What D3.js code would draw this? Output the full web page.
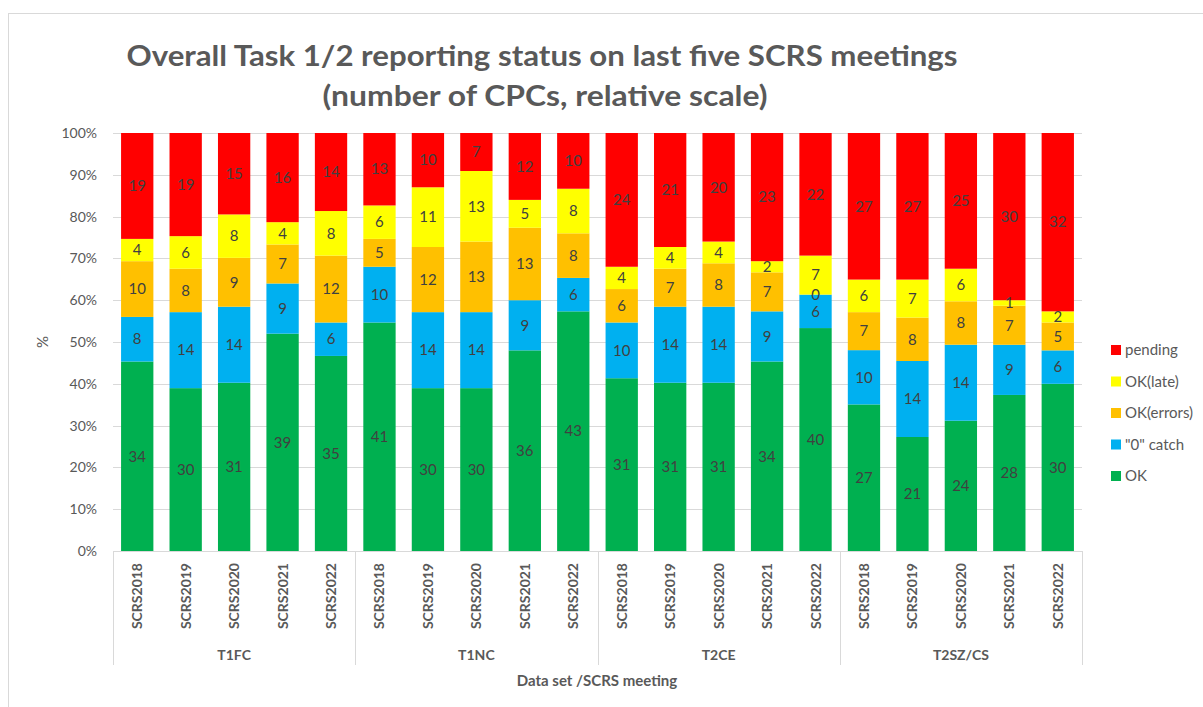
<!DOCTYPE html>
<html>
<head>
<meta charset="utf-8">
<script src="https://cdn.jsdelivr.net/npm/d3@7"></script>
<style>
  html, body { margin: 0; padding: 0; background: #fff; }
  svg { display: block; font-family: Lato, "Open Sans", sans-serif; }
</style>
</head>
<body>
<svg id="chart" width="1203" height="707"></svg>
<script>
// Data sets and SCRS meetings on the x axis
const groups = ["T1FC", "T1NC", "T2CE", "T2SZ/CS"];
const meetings = ["SCRS2018", "SCRS2019", "SCRS2020", "SCRS2021", "SCRS2022"];

// Series, bottom to top of each stack (number of CPCs)
const seriesNames = ["OK", "\"0\" catch", "OK(errors)", "OK(late)", "pending"];
const seriesColors = ["#00B050", "#00B0F0", "#FFC000", "#FFFF00", "#FF0000"];

const okValues      = [34, 30, 31, 39, 35,  41, 30, 30, 36, 43,  31, 31, 31, 34, 40,  27, 21, 24, 28, 30];
const zeroCatch     = [ 8, 14, 14,  9,  6,  10, 14, 14,  9,  6,  10, 14, 14,  9,  6,  10, 14, 14,  9,  6];
const okErrors      = [10,  8,  9,  7, 12,   5, 12, 13, 13,  8,   6,  7,  8,  7,  0,   7,  8,  8,  7,  5];
const okLate        = [ 4,  6,  8,  4,  8,   6, 11, 13,  5,  8,   4,  4,  4,  2,  7,   6,  7,  6,  1,  2];
const pending       = [19, 19, 15, 16, 14,  13, 10,  7, 12, 10,  24, 21, 20, 23, 22,  27, 27, 25, 30, 32];

const yTicks = [0, 0.1, 0.2, 0.3, 0.4, 0.5, 0.6, 0.7, 0.8, 0.9, 1.0];

const seriesValues = [okValues, zeroCatch, okErrors, okLate, pending];

// One row per bar
const rows = [];
groups.forEach((g, gi) => meetings.forEach((m, mi) => {
  const i = gi * meetings.length + mi;
  const row = { key: g + "|" + m, group: g, meeting: m };
  seriesNames.forEach((s, si) => row[s] = seriesValues[si][i]);
  row.total = d3.sum(seriesNames, s => row[s]);
  rows.push(row);
}));

const svg = d3.select("#chart");
const textColor = "#595959";
const margin = { left: 113, right: 1082, top: 133, bottom: 551 };

// Chart frame
svg.append("rect")
  .attr("x", 8.5).attr("y", 13.5)
  .attr("width", 1220).attr("height", 720)
  .attr("fill", "none").attr("stroke", "#d9d9d9").attr("stroke-width", 1);

// Title
const title = svg.append("g").attr("fill", textColor).attr("font-weight", "bold")
  .attr("font-size", 29).attr("text-anchor", "middle");
title.append("text").attr("x", 542).attr("y", 66)
  .attr("textLength", 831).attr("lengthAdjust", "spacingAndGlyphs")
  .text("Overall Task 1/2 reporting status on last five SCRS meetings");
title.append("text").attr("x", 545).attr("y", 106)
  .attr("textLength", 445).attr("lengthAdjust", "spacingAndGlyphs")
  .text("(number of CPCs, relative scale)");

const x = d3.scaleBand()
  .domain(rows.map(r => r.key))
  .range([margin.left, margin.right])
  .paddingInner(0.333).paddingOuter(0.1665);

const y = d3.scaleLinear().domain([0, 1]).range([margin.bottom, margin.top]);

// Gridlines
svg.append("g").selectAll("line").data(yTicks.slice(1)).join("line")
  .attr("x1", margin.left).attr("x2", margin.right)
  .attr("y1", d => Math.round(y(d)) + 0.5).attr("y2", d => Math.round(y(d)) + 0.5)
  .attr("stroke", "#d9d9d9").attr("stroke-width", 1);

// Y axis labels
const yAxis = d3.axisLeft(y).tickValues(yTicks).tickFormat(d3.format(".0%")).tickSize(0).tickPadding(16);
svg.append("g").attr("transform", `translate(${margin.left},0)`).call(yAxis)
  .call(g => g.select(".domain").remove())
  .call(g => g.selectAll("text").attr("fill", textColor).attr("font-size", 14)
    .attr("font-family", "Lato, 'Open Sans', sans-serif"));

// Stacked, normalised to each bar's total
const stack = d3.stack().keys(seriesNames).offset(d3.stackOffsetExpand);
const layers = stack(rows);

const layerG = svg.append("g").selectAll("g").data(layers).join("g")
  .attr("fill", (d, i) => seriesColors[i]);

layerG.selectAll("rect").data(d => d).join("rect")
  .attr("x", d => x(d.data.key))
  .attr("width", x.bandwidth())
  .attr("y", d => y(d[1]))
  .attr("height", d => y(d[0]) - y(d[1]));

// Value labels
const labelG = svg.append("g").attr("font-size", 15).attr("fill", "#404040").attr("text-anchor", "middle");
layers.forEach(layer => {
  layer.forEach(d => {
    labelG.append("text")
      .attr("x", x(d.data.key) + x.bandwidth() / 2)
      .attr("y", (y(d[0]) + y(d[1])) / 2)
      .attr("dy", "0.35em")
      .text(d.data[layer.key]);
  });
});

// Axis line
svg.append("line")
  .attr("x1", margin.left).attr("x2", margin.right)
  .attr("y1", margin.bottom + 0.5).attr("y2", margin.bottom + 0.5)
  .attr("stroke", "#d9d9d9");

// Meeting labels (rotated)
svg.append("g").selectAll("text").data(rows).join("text")
  .attr("transform", d => `translate(${x(d.key) + x.bandwidth() / 2 + 5},${563}) rotate(-90)`)
  .attr("text-anchor", "end")
  .attr("font-size", 14).attr("font-weight", "bold").attr("fill", textColor)
  .text(d => d.meeting);

// Group separators and labels
const groupWidth = (margin.right - margin.left) / groups.length;
const sepX = d3.range(groups.length + 1).map(i => Math.round(margin.left + i * groupWidth) + 0.5);
svg.append("g").selectAll("line").data(sepX).join("line")
  .attr("x1", d => d).attr("x2", d => d)
  .attr("y1", margin.bottom).attr("y2", 665)
  .attr("stroke", "#d9d9d9");

svg.append("g").selectAll("text").data(groups).join("text")
  .attr("x", (d, i) => margin.left + (i + 0.5) * groupWidth)
  .attr("y", 660)
  .attr("text-anchor", "middle")
  .attr("font-size", 14).attr("font-weight", "bold").attr("fill", textColor)
  .text(d => d);

// Axis titles
svg.append("text").attr("x", 597).attr("y", 686).attr("text-anchor", "middle")
  .attr("font-size", 15).attr("font-weight", "bold").attr("fill", textColor)
  .text("Data set /SCRS meeting");

svg.append("text").attr("transform", `translate(48,342) rotate(-90)`)
  .attr("text-anchor", "middle").attr("font-size", 15).attr("fill", textColor)
  .text("%");

// Legend, top to bottom in stack order reversed
const legendItems = seriesNames.map((s, i) => ({ name: s, color: seriesColors[i] })).reverse();
const legend = svg.append("g").selectAll("g").data(legendItems).join("g")
  .attr("transform", (d, i) => `translate(1111,${350 + i * 31.5})`);
legend.append("rect").attr("x", 0).attr("y", -5).attr("width", 10).attr("height", 10)
  .attr("fill", d => d.color);
legend.append("text").attr("x", 14).attr("y", 0).attr("dy", "0.35em")
  .attr("font-size", 15).attr("fill", textColor)
  .text(d => d.name);
</script>
</body>
</html>
